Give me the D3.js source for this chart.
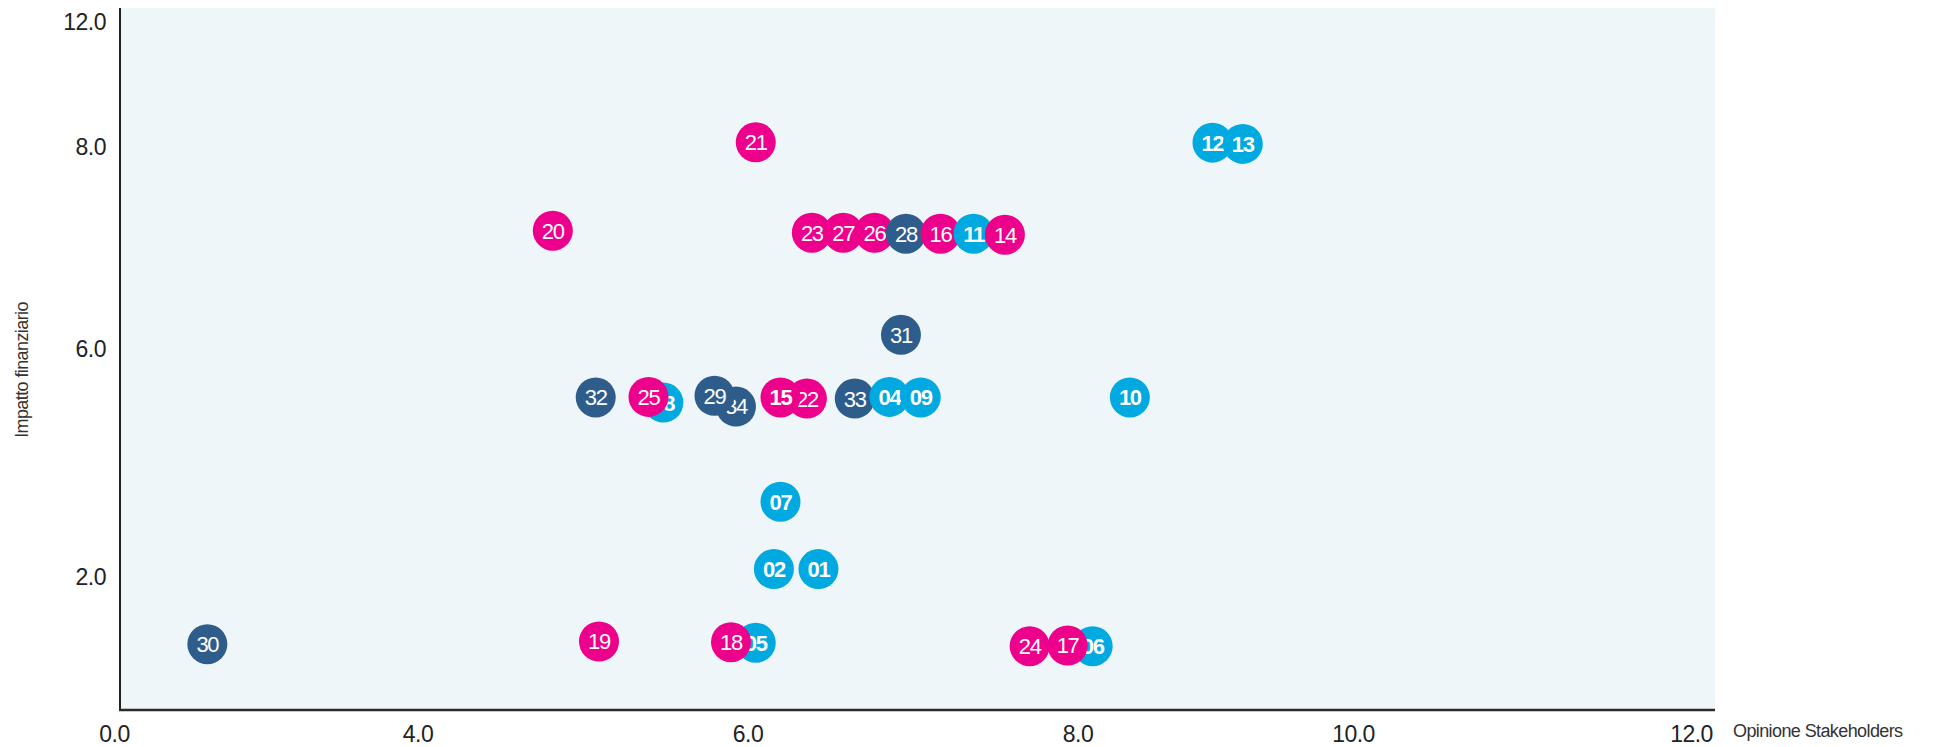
<!DOCTYPE html>
<html>
<head>
<meta charset="utf-8">
<script src="https://cdn.jsdelivr.net/npm/d3@7"></script>
<style>
  body { margin: 0; background: #fff; }
  svg { display: block; font-family: "Liberation Sans", Arial, sans-serif; }
</style>
</head>
<body>
<script>
// matrice di materialita'

// tick labels
var xTicks = [0, 4, 6, 8, 10, 12];
var xTickLabels = ["0.0", "4.0", "6.0", "8.0", "10.0", "12.0"];
var yTicks = [2, 6, 8, 12];
var yTickLabels = ["2.0", "6.0", "8.0", "12.0"];

// points, in drawing order (later ones lie on top)
var ids = ["30", "19", "05", "18", "06", "24", "17", "02", "01", "07",
           "32", "08", "25", "34", "29", "22", "15", "33", "04", "09", "10",
           "31", "20", "23", "27", "26", "28", "16", "11", "14", "21", "12", "13"];
var opinione = [1.23, 5.10, 6.05, 5.90, 8.11, 7.71, 7.94, 6.16, 6.43, 6.20,
                5.08, 5.49, 5.40, 5.93, 5.80, 6.36, 6.20, 6.65, 6.86, 7.05, 8.38,
                6.93, 4.82, 6.39, 6.58, 6.77, 6.96, 7.17, 7.37, 7.56, 6.05, 8.98, 9.20];
var impatto = [0.99, 1.03, 1.01, 1.02, 0.96, 0.96, 0.97, 2.14, 2.14, 3.32,
               5.15, 5.06, 5.16, 4.99, 5.18, 5.13, 5.15, 5.13, 5.16, 5.15, 5.15,
               6.14, 7.17, 7.15, 7.15, 7.15, 7.14, 7.14, 7.14, 7.13, 8.14, 8.13, 8.09];
var gruppi = ["C", "B", "A", "B", "A", "B", "B", "A", "A", "A",
              "C", "A", "B", "C", "C", "B", "B", "C", "A", "A", "A",
              "C", "B", "B", "B", "B", "C", "B", "A", "B", "B", "A", "A"];

var colors = {A: "#00a9e0", B: "#ec008c", C: "#2e5d8c"};

function drawMatrix(width, height) {

  var svg = d3.select("body")
              .append("svg")
              .attr("width", width)
              .attr("height", height);

  var plot = {left: 120, right: 1715, top: 8, bottom: 710};

  // scales follow the uneven spacing of the printed ticks
  var xScale = d3.scaleLinear()
    .domain([0, 4, 6, 8, 10, 12])
    .range([114, 417.5, 747.5, 1077.5, 1353, 1691]);

  var yScale = d3.scaleLinear()
    .domain([0, 2, 6, 8, 12])
    .range([710, 577, 349, 146.7, 22]);

  // background
  svg.append("rect")
    .attr("x", plot.left)
    .attr("y", plot.top)
    .attr("width", plot.right - plot.left)
    .attr("height", plot.bottom - plot.top)
    .attr("fill", "#eef6fa");

  // x-axis labels
  var xAxis = svg.append("g")
    .attr("transform", "translate(0," + plot.bottom + ")")
    .call(d3.axisBottom(xScale)
      .tickValues(xTicks)
      .tickFormat(function(d, i) { return xTickLabels[i]; })
      .tickSize(0)
      .tickPadding(16));

  // y-axis labels
  var yAxis = svg.append("g")
    .attr("transform", "translate(" + plot.left + ",0)")
    .call(d3.axisLeft(yScale)
      .tickValues(yTicks)
      .tickFormat(function(d, i) { return yTickLabels[i]; })
      .tickSize(0)
      .tickPadding(14));

  [xAxis, yAxis].forEach(function(ax) {
    ax.select(".domain").remove();
    ax.selectAll("text")
      .style("font-family", "'Liberation Sans', Arial, sans-serif")
      .style("font-size", "23px")
      .style("letter-spacing", "-0.5px")
      .attr("fill", "#222");
  });

  // axis lines
  svg.append("line")
    .attr("x1", plot.left).attr("x2", plot.left)
    .attr("y1", plot.top).attr("y2", plot.bottom + 1)
    .attr("stroke", "#222").attr("stroke-width", 2);

  svg.append("line")
    .attr("x1", plot.left - 1).attr("x2", plot.right)
    .attr("y1", plot.bottom).attr("y2", plot.bottom)
    .attr("stroke", "#2a2a2a").attr("stroke-width", 2.6);

  // axis titles
  svg.append("text")
    .attr("transform", "translate(28,370) rotate(-90)")
    .attr("text-anchor", "middle")
    .style("font-size", "18px")
    .style("letter-spacing", "-0.6px")
    .attr("fill", "#333")
    .text("Impatto finanziario");

  svg.append("text")
    .attr("x", 1733)
    .attr("y", 737)
    .style("font-size", "18px")
    .style("letter-spacing", "-0.6px")
    .attr("fill", "#333")
    .text("Opinione Stakeholders");

  // points
  var dataset = ids.map(function(id, i) {
    return {id: id, x: opinione[i], y: impatto[i], g: gruppi[i]};
  });

  var dots = svg.selectAll("g.dot")
    .data(dataset)
    .enter()
    .append("g")
    .attr("class", "dot")
    .attr("transform", function(d) {
      return "translate(" + xScale(d.x) + "," + yScale(d.y) + ")";
    });

  dots.append("circle")
    .attr("r", 20)
    .attr("fill", function(d) { return colors[d.g]; });

  dots.append("text")
    .attr("text-anchor", "middle")
    .attr("dy", "0.36em")
    .style("font-size", "22px")
    .style("letter-spacing", "-1.3px")
    .style("font-weight", function(d) {
      return (d.g == "A" || d.id == "15") ? "bold" : "normal";
    })
    .attr("fill", "#fff")
    .text(function(d) { return d.id; });
}

drawMatrix(1948, 747);
</script>
</body>
</html>
